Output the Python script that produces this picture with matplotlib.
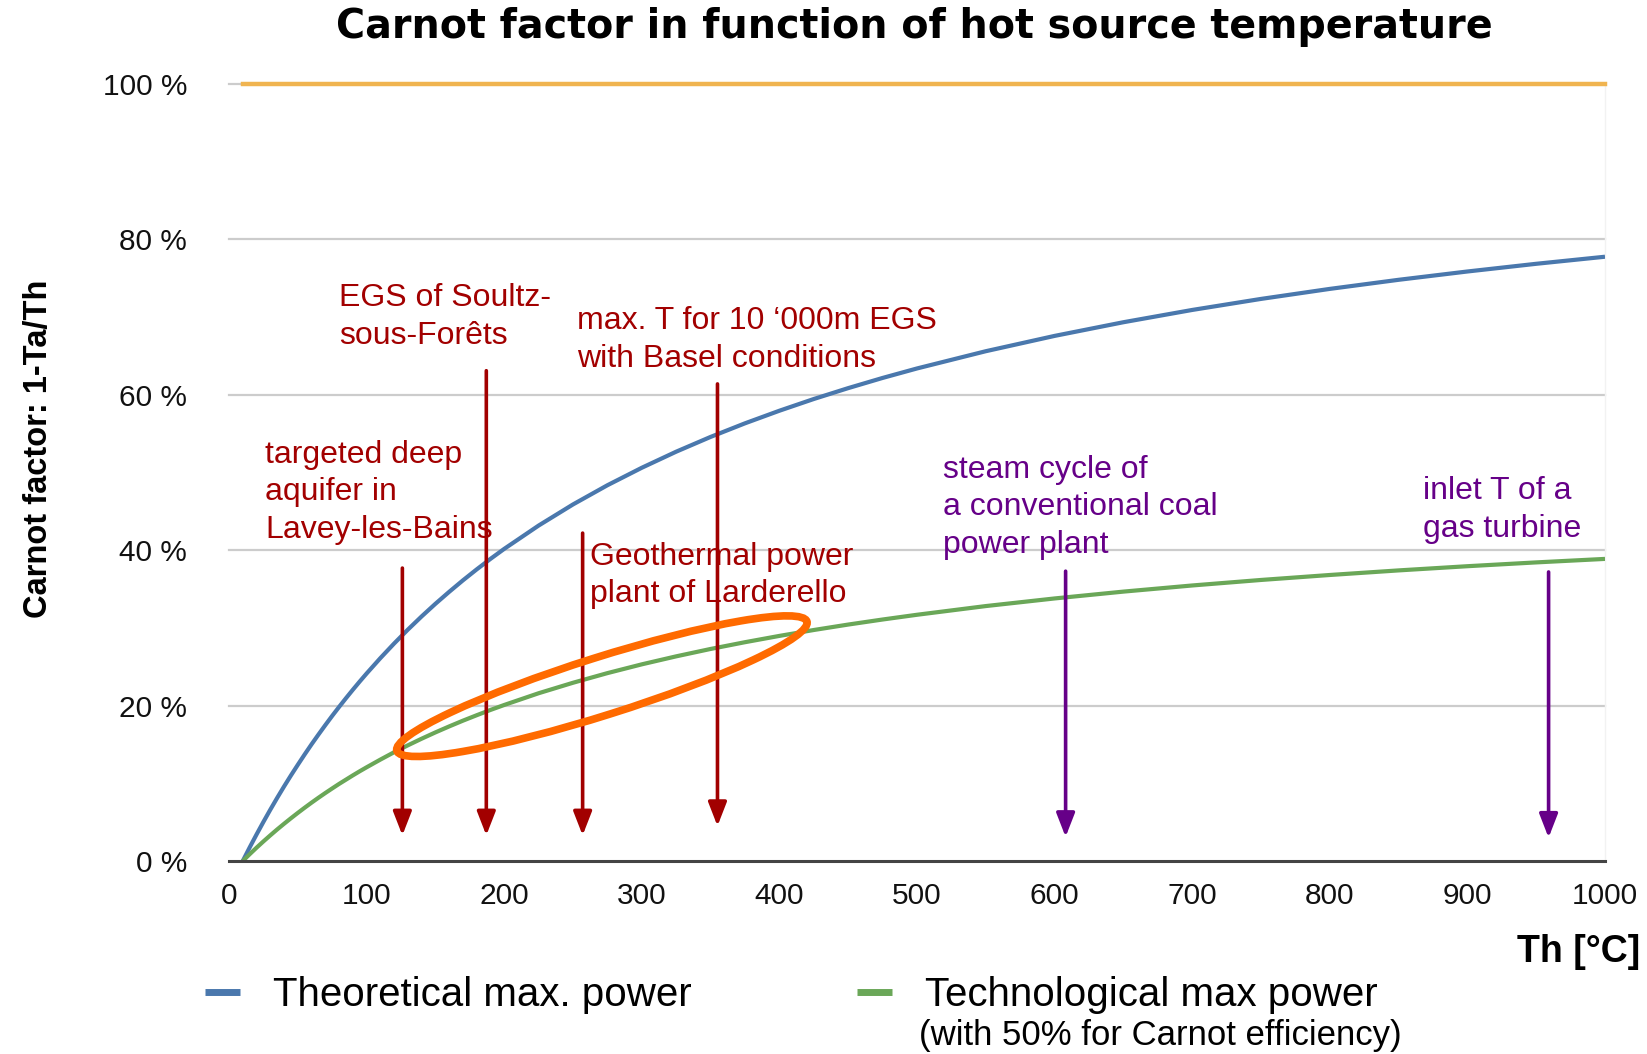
import matplotlib
matplotlib.use("Agg")
import matplotlib.pyplot as plt
import matplotlib.transforms as mtransforms
from matplotlib.patches import Ellipse
from matplotlib.lines import Line2D

plt.rcParams['font.family'] = ['Liberation Sans', 'DejaVu Sans']

# ---------------- data ----------------
temps = [10, 15, 20, 25, 30, 35, 40, 45, 50, 55, 60, 65, 70, 75, 80, 85, 90, 95,
         100, 110, 120, 130, 140, 150, 160, 170, 180, 190, 200, 225, 250, 275,
         300, 325, 350, 375, 400, 425, 450, 475, 500, 550, 600, 650, 700, 750,
         800, 850, 900, 950, 1000]
theoretical = [0, 1.74, 3.41, 5.03, 6.60, 8.12, 9.59, 11.01, 12.38, 13.72, 15.02,
               16.27, 17.49, 18.68, 19.83, 20.95, 22.04, 23.10, 24.13, 26.11,
               27.99, 29.78, 31.48, 33.10, 34.64, 36.12, 37.53, 38.88, 40.17,
               43.17, 45.89, 48.36, 50.61, 52.68, 54.58, 56.33, 57.95, 59.46,
               60.86, 62.17, 63.39, 65.61, 67.58, 69.34, 70.92, 72.34, 73.63,
               74.80, 75.87, 76.86, 77.77]
technological = [0, 0.87, 1.71, 2.52, 3.30, 4.06, 4.79, 5.50, 6.19, 6.86, 7.51,
                 8.14, 8.75, 9.34, 9.92, 10.47, 11.02, 11.55, 12.06, 13.05, 14.00,
                 14.89, 15.74, 16.55, 17.32, 18.06, 18.76, 19.44, 20.08, 21.59,
                 22.94, 24.18, 25.31, 26.34, 27.29, 28.16, 28.97, 29.73, 30.43,
                 31.08, 31.69, 32.81, 33.79, 34.67, 35.46, 36.17, 36.81, 37.40,
                 37.94, 38.43, 38.88]
limit_T = [10, 1000]
limit_val = [100, 100]

x_ticks = [0, 100, 200, 300, 400, 500, 600, 700, 800, 900, 1000]
y_ticks = [0, 20, 40, 60, 80, 100]
y_ticklabels = ['0 %', '20 %', '40 %', '60 %', '80 %', '100 %']

# geothermal (red) and conventional (purple) markers
red_T = [126, 187, 257, 355]
red_top = [37.7, 63.1, 42.2, 61.4]
red_bottom = [3.3, 3.3, 3.3, 4.5]
purple_T = [608, 959]
purple_top = [37.3, 37.2]
purple_bottom = [3.1, 3.0]

red_labels = ["EGS of Soultz-\nsous-Forêts",
              "max. T for 10 \u2018000m EGS\nwith Basel conditions",
              "targeted deep\naquifer in\nLavey-les-Bains",
              "Geothermal power\nplant of Larderello"]
red_label_T = [80, 253, 26.5, 262]
red_label_y = [74.4, 71.4, 54.2, 41.1]
purple_labels = ["steam cycle of\na conventional coal\npower plant",
                 "inlet T of a\ngas turbine"]
purple_label_T = [519, 868]
purple_label_y = [52.3, 49.5]

ellipse_center = (271, 22.5)

# ---------------- figure ----------------
W, H = 1647, 1054
fig = plt.figure(figsize=(W / 100, H / 100), dpi=100)
ax = fig.add_axes([229 / W, 1 - 861 / H, 1376 / W, 777 / H])

BLUE = '#4A78AD'
GREEN = '#6AA758'
ORANGE = '#F0B450'
RED = '#A20000'
PURPLE = '#660088'

ax.set_xlim(0, 1000)
ax.set_ylim(0, 100)

for v in y_ticks[1:]:
    ax.axhline(v, color='#cccccc', lw=1.6, zorder=1, clip_on=False)

ax.plot(limit_T, limit_val, color=ORANGE, lw=3.2, clip_on=False, zorder=3)
ax.plot(temps, theoretical, color=BLUE, lw=3.0, zorder=3,
        solid_joinstyle='round', solid_capstyle='butt')
ax.plot(temps, technological, color=GREEN, lw=3.0, zorder=3,
        solid_joinstyle='round', solid_capstyle='butt')

for s in ['top', 'left']:
    ax.spines[s].set_visible(False)
ax.spines['right'].set_color('#f2f2f2')
ax.spines['right'].set_linewidth(1.0)
ax.spines['bottom'].set_color('#444444')
ax.spines['bottom'].set_linewidth(2.2)
ax.spines['bottom'].set_zorder(4)

ax.set_xticks(x_ticks)
ax.set_xticklabels([str(t) for t in x_ticks])
ax.set_yticks(y_ticks)
ax.set_yticklabels(y_ticklabels)
ax.tick_params(axis='both', length=0, labelsize=21.5, colors='#111111')
ax.tick_params(axis='y', pad=30)
ax.tick_params(axis='x', pad=15)

ax.set_ylabel('Carnot factor: 1-Ta/Th', fontsize=23.5, fontweight='bold')
ax.yaxis.set_label_coords(-0.127, 0.53)

# arrows
def draw_arrows(Ts, tops, bottoms, color):
    for t, a, b in zip(Ts, tops, bottoms):
        ax.annotate('', xy=(t, b), xytext=(t, a),
                    arrowprops=dict(arrowstyle='-|>,head_length=0.9,head_width=0.35',
                                    color=color, lw=2.6, shrinkA=0, shrinkB=0,
                                    mutation_scale=16),
                    zorder=5)

draw_arrows(red_T, red_top, red_bottom, RED)
draw_arrows(purple_T, purple_top, purple_bottom, PURPLE)

for txt, t, y in zip(red_labels, red_label_T, red_label_y):
    ax.text(t, y, txt, color=RED, fontsize=23, ha='left', va='top',
            linespacing=1.33, zorder=6)
for txt, t, y in zip(purple_labels, purple_label_T, purple_label_y):
    ax.text(t, y, txt, color=PURPLE, fontsize=23, ha='left', va='top',
            linespacing=1.33, zorder=6)

# highlighted ellipse (size in inches, centre in data)
trans = fig.dpi_scale_trans + mtransforms.ScaledTranslation(
    ellipse_center[0], ellipse_center[1], ax.transData)
ell = Ellipse((0, 0), 4.3, 0.58, angle=17.5, transform=trans,
              fill=False, edgecolor='#FF6A00', lw=5.5, zorder=7)
ax.add_patch(ell)

# title and axis text
fig.text(914 / W, 1 - 27 / H, 'Carnot factor in function of hot source temperature',
         ha='center', va='center', fontsize=28.5, fontweight='bold',
         family=['DejaVu Sans'])
fig.text(1640 / W, 1 - 952 / H, 'Th [°C]', ha='right', va='center',
         fontsize=27, fontweight='bold')

# legend
handles = [Line2D([], [], color=BLUE, lw=5, solid_capstyle='butt'),
           Line2D([], [], color=GREEN, lw=5, solid_capstyle='butt')]
fig.legend(handles, ['Theoretical max. power', 'Technological max power'],
           loc='center left', bbox_to_anchor=(205 / W, 1 - 995 / H),
           ncol=2, frameon=False, fontsize=29, borderpad=0, borderaxespad=0,
           handlelength=0.87, handletextpad=0.82, columnspacing=4.1)
fig.text(919 / W, 1 - 1035 / H, '(with 50% for Carnot efficiency)',
         ha='left', va='center', fontsize=25)

fig.savefig('out.png', dpi=100, facecolor='white')
